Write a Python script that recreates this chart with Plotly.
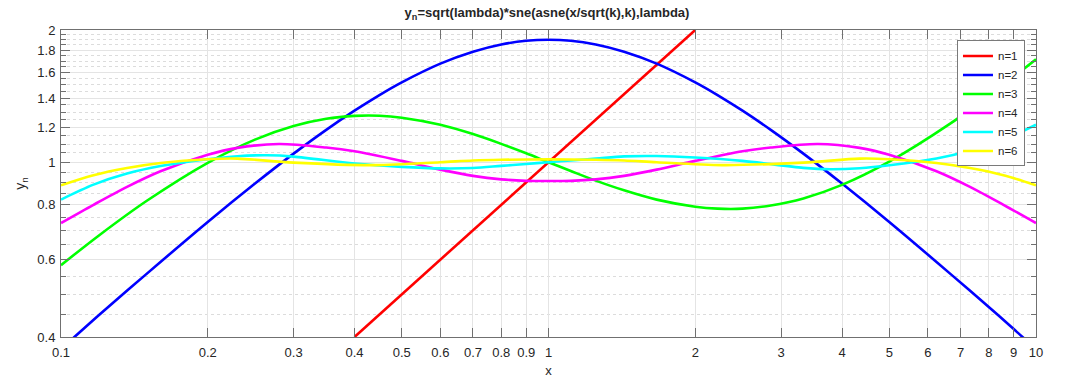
import math
import plotly.graph_objects as go

# ---- data ----
x_n1 = [0.4, 2.0]
y_n1 = [0.4, 2.0]

x_n2 = [0.1, 0.106, 0.12, 0.149, 0.2, 0.25, 0.3, 0.35, 0.4, 0.45, 0.5, 0.6, 0.7, 0.8, 0.9, 1.0,
        1.111, 1.25, 1.429, 1.667, 2.0, 2.222, 2.5, 2.857, 3.333, 4.0, 5.0, 6.711, 8.333, 9.434, 10.0]
y_n2 = [0.376, 0.398, 0.450, 0.554, 0.731, 0.894, 1.046, 1.185, 1.310, 1.422, 1.520, 1.677, 1.785, 1.854, 1.890, 1.900,
        1.890, 1.854, 1.785, 1.677, 1.520, 1.422, 1.310, 1.185, 1.046, 0.894, 0.731, 0.554, 0.450, 0.398, 0.376]

x_n3 = [0.1, 0.12, 0.15, 0.2, 0.25, 0.3, 0.35, 0.4, 0.45, 0.5, 0.6, 0.7, 0.8, 0.9, 1.0,
        1.111, 1.25, 1.429, 1.667, 2.0, 2.222, 2.5, 2.857, 3.333, 4.0, 5.0, 6.667, 8.333, 10.0]
y_n3 = [0.583, 0.683, 0.817, 0.997, 1.126, 1.209, 1.256, 1.275, 1.276, 1.263, 1.217, 1.159, 1.101, 1.048, 1.0,
        0.955, 0.908, 0.863, 0.822, 0.792, 0.784, 0.784, 0.797, 0.827, 0.888, 1.003, 1.224, 1.465, 1.715]

x_n4 = [0.1, 0.1166, 0.1366, 0.16, 0.2, 0.23, 0.28, 0.35, 0.4, 0.5, 0.6, 0.7, 0.8, 0.9, 1.0,
        1.111, 1.25, 1.429, 1.667, 2.0, 2.5, 2.857, 3.571, 4.348, 5.0, 6.25, 7.321, 8.576, 10.0]
y_n4 = [0.727, 0.800, 0.879, 0.954, 1.040, 1.078, 1.100, 1.080, 1.059, 1.007, 0.962, 0.931, 0.914, 0.907, 0.906,
        0.907, 0.914, 0.931, 0.962, 1.007, 1.059, 1.080, 1.100, 1.078, 1.040, 0.954, 0.879, 0.800, 0.727]

x_n5 = [0.1, 0.1166, 0.1366, 0.16, 0.2, 0.23, 0.265, 0.3, 0.4, 0.5, 0.6, 0.7, 0.8, 0.9, 1.0,
        1.111, 1.25, 1.429, 1.667, 2.0, 2.5, 3.333, 3.774, 4.348, 5.0, 6.25, 7.321, 8.576, 10.0]
y_n5 = [0.822, 0.889, 0.942, 0.980, 1.016, 1.032, 1.037, 1.030, 0.993, 0.976, 0.968, 0.970, 0.981, 0.991, 1.0,
        1.009, 1.019, 1.031, 1.033, 1.025, 1.007, 0.971, 0.964, 0.969, 0.984, 1.020, 1.062, 1.125, 1.217]

x_n6 = [0.1, 0.1166, 0.1366, 0.16, 0.2, 0.23, 0.3, 0.44, 0.6, 0.7, 0.8, 1.0,
        1.25, 1.429, 1.667, 2.273, 3.333, 4.348, 5.0, 6.25, 7.321, 8.576, 10.0]
y_n6 = [0.886, 0.934, 0.970, 0.996, 1.016, 1.019, 0.998, 0.985, 1.0, 1.009, 1.013, 1.015,
        1.013, 1.009, 1.0, 0.985, 0.998, 1.019, 1.016, 0.996, 0.970, 0.934, 0.886]

series = [
    ("n=1", x_n1, y_n1, "#FF0000"),
    ("n=2", x_n2, y_n2, "#0000FF"),
    ("n=3", x_n3, y_n3, "#00FF00"),
    ("n=4", x_n4, y_n4, "#FF00FF"),
    ("n=5", x_n5, y_n5, "#00FFFF"),
    ("n=6", x_n6, y_n6, "#FFFF00"),
]

x_ticks = [0.1, 0.2, 0.3, 0.4, 0.5, 0.6, 0.7, 0.8, 0.9, 1, 2, 3, 4, 5, 6, 7, 8, 9, 10]
x_tick_text = ["0.1", "0.2", "0.3", "0.4", "0.5", "0.6", "0.7", "0.8", "0.9",
               "1", "2", "3", "4", "5", "6", "7", "8", "9", "10"]
y_ticks = [0.4, 0.6, 0.8, 1.0, 1.2, 1.4, 1.6, 1.8, 2.0]
y_tick_text = ["0.4", "0.6", "0.8", "1", "1.2", "1.4", "1.6", "1.8", "2"]
y_minor = [0.45, 0.5, 0.55, 0.65, 0.7, 0.75, 0.85, 0.9, 0.95, 1.05, 1.1, 1.15,
           1.25, 1.3, 1.35, 1.45, 1.5, 1.55, 1.65, 1.7, 1.75, 1.85, 1.9, 1.95]

fig = go.Figure()
for name, xs, ys, col in series:
    fig.add_trace(go.Scatter(x=xs, y=ys, mode="lines", name=name,
                             line=dict(color=col, width=2.6, shape="spline", smoothing=0.9)))

axis_col = "#707070"
grid_col = "#e4e4e4"
font_fam = "Liberation Sans, Arial, sans-serif"
W, H = 1080, 387

fig.update_layout(
    width=W, height=H,
    margin=dict(l=61, r=44, t=29.5, b=50, autoexpand=False),
    paper_bgcolor="white", plot_bgcolor="white",
    font=dict(family=font_fam, size=13, color="#262626"),
    title=dict(text="<b>y<sub>n</sub>=sqrt(lambda)*sne(asne(x/sqrt(k),k),lambda)</b>",
               x=547 / W, xanchor="center", y=1 - 12.5 / H, yanchor="middle",
               font=dict(size=13, color="#262626")),
    showlegend=True,
    legend=dict(x=0.9887, y=0.966, xanchor="right", yanchor="top",
                bgcolor="white", bordercolor="#7a7a7a", borderwidth=1,
                font=dict(size=11.5, color="#262626"), tracegroupgap=0,
                itemwidth=30),
    xaxis=dict(type="log", range=[-1, 1], tickmode="array", tickvals=x_ticks,
               ticktext=x_tick_text, ticks="inside", ticklen=9, tickcolor=axis_col,
               showline=True, linecolor=axis_col, linewidth=1, mirror="allticks",
               showgrid=True, gridcolor=grid_col, gridwidth=1, zeroline=False,
               ticklabelstandoff=3,
               title=dict(text="x", standoff=7, font=dict(size=13)),
               tickfont=dict(size=13)),
    yaxis=dict(type="log", range=[math.log10(0.4), math.log10(2.0)], tickmode="array",
               tickvals=y_ticks, ticktext=y_tick_text, ticks="inside", ticklen=9,
               tickcolor=axis_col,
               showline=True, linecolor=axis_col, linewidth=1, mirror="allticks",
               showgrid=True, gridcolor=grid_col, gridwidth=1, zeroline=False,
               ticklabelstandoff=2,
               title=dict(text="y<sub>n</sub>", standoff=8, font=dict(size=14)),
               tickfont=dict(size=13),
               minor=dict(tickmode="array", tickvals=y_minor, ticks="inside", ticklen=5,
                          tickcolor=axis_col, showgrid=True, gridcolor="#dcdcdc",
                          griddash="dot", gridwidth=1)),
)

# remove the default 8px page margin so the figure sits at the window's corner
fig.write_html("out.html",
               config={"displayModeBar": False},
               post_script="document.body.style.margin='0px';document.body.style.padding='0px';")
